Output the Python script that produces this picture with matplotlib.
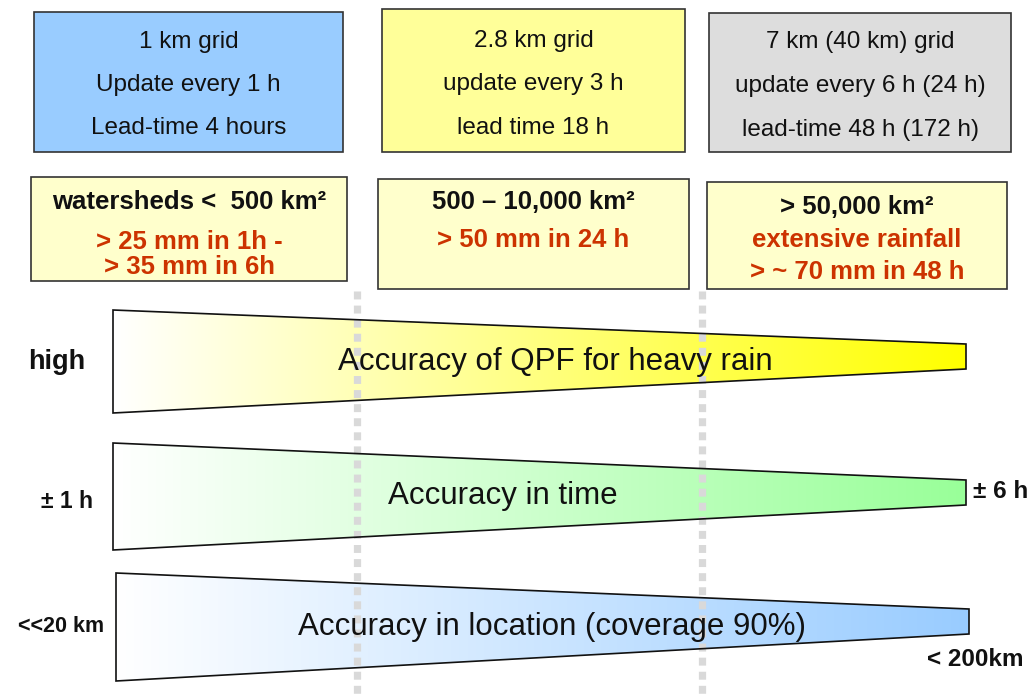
import numpy as np
import matplotlib.pyplot as plt
from matplotlib.patches import Rectangle, Polygon
from matplotlib.colors import to_rgb

plt.rcParams.update({
    "font.family": ["Liberation Sans", "DejaVu Sans"],
})

# =============================
#  Content
# =============================
model_lines = [
    ["1 km grid", "Update every 1 h", "Lead-time 4 hours"],
    ["2.8 km grid", "update every 3 h", "lead time 18 h"],
    ["7 km (40 km) grid", "update every 6 h (24 h)", "lead-time 48 h (172 h)"],
]
model_colors = ["#99CCFF", "#FFFF99", "#DDDDDD"]

area_titles = ["watersheds <  500 km²", "500 – 10,000 km²", "> 50,000 km²"]
area_rain = [
    ["> 25 mm in 1h -", "> 35 mm in 6h"],
    ["> 50 mm in 24 h"],
    ["extensive rainfall", "> ~ 70 mm in 48 h"],
]

wedge_labels = ["Accuracy of QPF for heavy rain", "Accuracy in time",
                "Accuracy in location (coverage 90%)"]
wedge_colors = ["#FFFF00", "#99FF99", "#99CCFF"]
left_labels = ["high", "± 1 h", "<<20 km"]
right_labels = ["", "± 6 h", "< 200km"]

# =============================
#  Layout (pixel coordinates)
# =============================
model_boxes = [(34, 12, 343, 152), (382, 9, 685, 152), (709, 13, 1011, 152)]
model_text_y = [[40, 83, 126], [39, 82, 126], [40, 84, 128]]
area_boxes = [(31, 177, 347, 281), (378, 179, 689, 289), (707, 182, 1007, 289)]
area_text_y = [[200, 240, 265], [200, 238], [205, 238, 270]]

# wedge: x_left, y_left_top, y_left_bot, x_right, y_right_top, y_right_bot
wedges = [
    (113, 310, 413, 966, 344, 369),
    (113, 443, 550, 966, 480, 505),
    (116, 573, 681, 969, 609, 634),
]
wedge_text_xy = [(555, 360), (503, 494), (552, 625)]
left_xy = [(57, 361), (67, 500), (61, 625)]
left_sizes = [19.5, 16.5, 15.5]
right_xy = [(1001, 491), (1001, 491), (975, 658)]

fig = plt.figure(figsize=(10.31, 6.98), dpi=100)
ax = fig.add_axes([0, 0, 1, 1])
ax.set_xlim(0, 1031)
ax.set_ylim(698, 0)
ax.axis("off")

# dashed separators (drawn over the wedge fills)
for xs in (357, 702):
    ax.plot([xs, xs], [291, 698], color="#D9D9D9", linewidth=5.2,
            linestyle=(0, (1.1, 0.85)), solid_capstyle="butt",
            dash_capstyle="butt", zorder=3.5)

# top boxes
for (x0, y0, x1, y1), col, lines, ys in zip(model_boxes, model_colors,
                                            model_lines, model_text_y):
    ax.add_patch(Rectangle((x0, y0), x1 - x0, y1 - y0, facecolor=col,
                           edgecolor="#333333", linewidth=1.2, zorder=2))
    for txt, y in zip(lines, ys):
        ax.text((x0 + x1) / 2, y + 2, txt, ha="center", va="center",
                fontsize=17.5, color="#111111", zorder=3)

# catchment boxes
for (x0, y0, x1, y1), title, rain, ys in zip(area_boxes, area_titles,
                                             area_rain, area_text_y):
    ax.add_patch(Rectangle((x0, y0), x1 - x0, y1 - y0, facecolor="#FFFFCC",
                           edgecolor="#333333", linewidth=1.2, zorder=2))
    xc = (x0 + x1) / 2
    ax.text(xc, ys[0] + 2, title, ha="center", va="center", fontsize=18.5,
            fontweight="bold", color="#111111", zorder=3)
    for txt, y in zip(rain, ys[1:]):
        ax.text(xc, y + 2, txt, ha="center", va="center", fontsize=18.5,
                fontweight="bold", color="#CC3300", zorder=3)

# gradient wedges
for (xl, ylt, ylb, xr, yrt, yrb), col, lab, (tx, ty) in zip(
        wedges, wedge_colors, wedge_labels, wedge_text_xy):
    poly = Polygon([(xl, ylt), (xr, yrt), (xr, yrb), (xl, ylb)], closed=True,
                   facecolor="none", edgecolor="#111111", linewidth=1.2,
                   zorder=4)
    ax.add_patch(poly)
    t = np.linspace(0, 1, 256)[None, :, None]
    c = np.array(to_rgb(col))[None, None, :]
    grad = (1 - t) * np.ones(3)[None, None, :] + t * c
    im = ax.imshow(grad, extent=(xl, xr, ylb, ylt), aspect="auto",
                   interpolation="bilinear", zorder=3)
    im.set_clip_path(poly)
    ax.text(tx, ty + 2, lab, ha="center", va="center", fontsize=22.5,
            color="#111111", zorder=5)

for lab, (x, y), fs in zip(left_labels, left_xy, left_sizes):
    ax.text(x, y + 1, lab, ha="center", va="center", fontsize=fs,
            fontweight="bold", color="#111111")
for lab, (x, y) in zip(right_labels, right_xy):
    if lab:
        ax.text(x, y + 1, lab, ha="center", va="center", fontsize=17.5,
                fontweight="bold", color="#111111")

ax.set_ylim(698, 0)
ax.set_xlim(0, 1031)
fig.savefig("out.png", dpi=100)
